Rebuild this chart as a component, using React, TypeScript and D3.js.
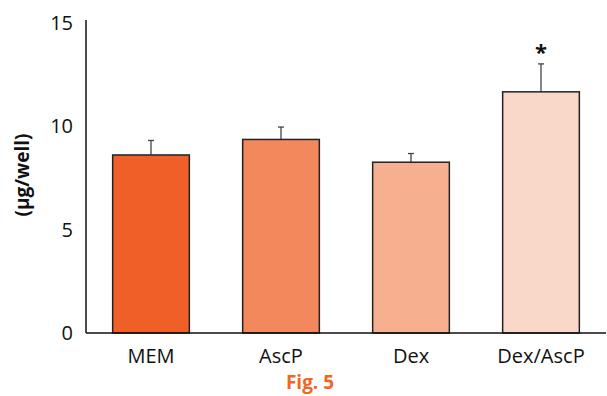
import React from "react";
import * as d3 from "d3";

const categories = ["MEM", "AscP", "Dex", "Dex/AscP"];
const means = [8.6, 9.35, 8.25, 11.65];
const errors = [0.7, 0.6, 0.42, 1.35];
const colors = ["#EF5F28", "#F4885D", "#F7B08F", "#FAD8C9"];
const yTicks = [0, 5, 10, 15];
const significance = ["", "", "", "*"];

export default function App() {
  const W = 607, H = 396;
  const x0 = 86, x1 = 606, yBase = 333, yTop = 22.5;
  const x = d3.scaleBand<string>().domain(categories).range([x0, x1]).paddingInner(0.41).paddingOuter(0.205);
  const y = d3.scaleLinear().domain([0, 15]).range([yBase, yTop]);
  const font = "'Open Sans', 'Noto Sans', sans-serif";
  return (
    <svg width={W} height={H} style={{ position: "absolute", left: 0, top: 0 }} fontFamily={font}>
      <rect width={W} height={H} fill="#fff" />
      {categories.map((c, i) => {
        const bx = x(c)!;
        const bw = x.bandwidth();
        const cx = bx + bw / 2;
        return (
          <g key={c}>
            <line x1={cx} x2={cx} y1={y(means[i])} y2={y(means[i] + errors[i])} stroke="#444" strokeWidth={1.3} />
            <line x1={cx - 3} x2={cx + 3} y1={y(means[i] + errors[i])} y2={y(means[i] + errors[i])} stroke="#444" strokeWidth={1.3} />
            <rect x={bx} y={y(means[i])} width={bw} height={yBase - y(means[i])} fill={colors[i]} stroke="#222" strokeWidth={1.5} />
            {significance[i] && (
              <text x={cx} y={y(means[i] + errors[i]) - 4} textAnchor="middle" fontSize={22} fontWeight="bold" fill="#111">{significance[i]}</text>
            )}
            <text x={cx} y={363} textAnchor="middle" fontSize={20} fill="#111">{c}</text>
          </g>
        );
      })}
      <line x1={x0} x2={x0} y1={20} y2={yBase} stroke="#111" strokeWidth={1.5} />
      <line x1={x0} x2={x1} y1={yBase} y2={yBase} stroke="#111" strokeWidth={1.5} />
      {yTicks.map((t) => (
        <text key={t} x={73} y={y(t)} dy="0.36em" textAnchor="end" fontSize={20} fill="#111">{t}</text>
      ))}
      <text transform={`translate(22,${175}) rotate(-90)`} textAnchor="middle" dy="0.35em" fontSize={19} fontWeight="bold" fill="#111">(µg/well)</text>
      <text x={310} y={389} textAnchor="middle" fontSize={19} fontWeight="bold" fill="#F26522">Fig. 5</text>
    </svg>
  );
}
